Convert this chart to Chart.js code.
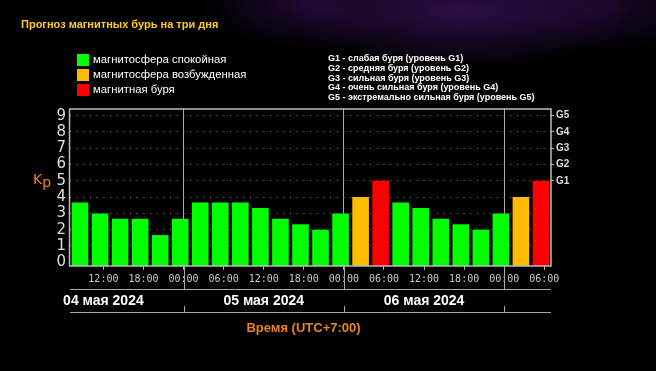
<!DOCTYPE html>
<html><head><meta charset="utf-8">
<style>
html,body{margin:0;padding:0;background:#000;overflow:hidden}
#wrap{position:relative;width:656px;height:371px;
background:
 radial-gradient(ellipse 110px 45px at 310px 5px, rgba(60,18,95,0.5), rgba(0,0,0,0) 100%),
 radial-gradient(ellipse 170px 60px at 460px 10px, rgba(75,25,120,0.6), rgba(0,0,0,0) 100%),
 radial-gradient(ellipse 120px 50px at 600px 5px, rgba(50,15,80,0.5), rgba(0,0,0,0) 100%),
 #000;}
canvas{display:block}
</style>
<script src="https://cdn.jsdelivr.net/npm/chart.js@4.4.0/dist/chart.umd.min.js"></script>
</head><body><div id="wrap"><canvas id="c" width="656" height="371"></canvas></div>
<script>
const chartTitle = 'Прогноз магнитных бурь на три дня';
const categories = ['04.05 07:00','04.05 10:00','04.05 13:00','04.05 16:00','04.05 19:00','04.05 22:00',
  '05.05 01:00','05.05 04:00','05.05 07:00','05.05 10:00','05.05 13:00','05.05 16:00','05.05 19:00','05.05 22:00',
  '06.05 01:00','06.05 04:00','06.05 07:00','06.05 10:00','06.05 13:00','06.05 16:00','06.05 19:00','06.05 22:00',
  '07.05 01:00','07.05 04:00'];
const kpValues = [3.67,3.00,2.67,2.67,1.67,2.67,3.67,3.67,3.67,3.33,2.67,2.33,2.00,3.00,4.00,5.00,3.67,3.33,2.67,2.33,2.00,3.00,4.00,5.00];
const levelNames = ['магнитосфера спокойная','магнитосфера возбужденная','магнитная буря'];
const levelColors = ['#00ff00','#ffbb00','#ff0000'];
const stormLegend = ['G1 - слабая буря (уровень G1)','G2 - средняя буря (уровень G2)','G3 - сильная буря (уровень G3)','G4 - очень сильная буря (уровень G4)','G5 - экстремально сильная буря (уровень G5)'];
const yTickValues = [0,1,2,3,4,5,6,7,8,9];
const gTickValues = [5,6,7,8,9];
const gTickLabels = ['G1','G2','G3','G4','G5'];
const timeTickHours = [5,11,17,23,29,35,41,47,53,59,65,71];
const timeTickLabels = ['12:00','18:00','00:00','06:00','12:00','18:00','00:00','06:00','12:00','18:00','00:00','06:00'];
const midnightHours = [17,41,65];
const dayLabels = ['04 мая 2024','05 мая 2024','06 мая 2024'];
const dayLabelHours = [5,29,53];
const yTitle = 'Kp';
const xTitle = 'Время (UTC+7:00)';

const Y_MIN = -0.23, Y_MAX = 9.41;
function levelColor(v){ return v >= 5 ? levelColors[2] : (v >= 4 ? levelColors[1] : levelColors[0]); }

const decor = {
  id:'decor',
  afterDraw(chart){
    const ctx = chart.ctx, a = chart.chartArea, xt = chart.scales.xt;
    ctx.save();
    // frame
    ctx.strokeStyle = '#bdbdbd'; ctx.lineWidth = 1.5;
    ctx.strokeRect(a.left - 0.5, a.top, a.right - a.left + 0.5, a.bottom - a.top);
    // midnight extensions
    ctx.strokeStyle = '#aaaaaa'; ctx.lineWidth = 1;
    midnightHours.forEach(h => {
      const x = Math.round(xt.getPixelForValue(h)) + 0.5;
      ctx.beginPath(); ctx.moveTo(x, a.bottom); ctx.lineTo(x, a.bottom + 23); ctx.stroke();
      ctx.beginPath(); ctx.moveTo(x, a.bottom + 40); ctx.lineTo(x, a.bottom + 46); ctx.stroke();
    });
    // horizontal separator lines
    [a.bottom + 23.5, a.bottom + 46.5].forEach(y => {
      ctx.beginPath(); ctx.moveTo(a.left, y); ctx.lineTo(a.right, y); ctx.stroke();
    });
    // day labels
    ctx.fillStyle = '#ffffff'; ctx.font = 'bold 14px "Liberation Sans"';
    ctx.textAlign = 'center'; ctx.textBaseline = 'middle';
    dayLabels.forEach((t, i) => ctx.fillText(t, xt.getPixelForValue(dayLabelHours[i]), a.bottom + 35));
    // x title
    ctx.fillStyle = '#e8861c'; ctx.font = 'bold 13px "Liberation Sans"';
    ctx.fillText(xTitle, (a.left + a.right) / 2 - 7, a.bottom + 62);
    // Kp title
    const y5 = chart.scales.y.getPixelForValue(5);
    ctx.textAlign = 'left';
    ctx.fillStyle = '#e8861c'; ctx.font = '14px "DejaVu Sans"';
    ctx.fillText('K', 33, y5);
    const kw = ctx.measureText('K').width;
    ctx.fillText('p', 33 + kw, y5 + 3);
    // chart title
    ctx.fillStyle = '#ffcc22'; ctx.font = 'bold 11px "Liberation Sans"';
    ctx.fillText(chartTitle, 21, 25);
    // level legend
    ctx.font = '11.3px "Liberation Sans"';
    levelNames.forEach((t, i) => {
      const cy = 60 + i * 15;
      ctx.fillStyle = levelColors[i]; ctx.fillRect(77, cy - 6, 12, 12);
      ctx.fillStyle = '#ffffff'; ctx.fillText(t, 93, cy);
    });
    // storm legend
    ctx.font = 'bold 9px "Liberation Sans"'; ctx.fillStyle = '#ffffff';
    stormLegend.forEach((t, i) => ctx.fillText(t, 328, 59 + i * 9.6));
    ctx.restore();
  }
};

new Chart(document.getElementById('c'), {
  type: 'bar',
  data: {
    labels: categories,
    datasets: [{
      data: kpValues,
      base: Y_MIN,
      backgroundColor: ctx => levelColor(ctx.raw),
      borderWidth: 0,
      categoryPercentage: 1,
      barPercentage: 0.83,
      xAxisID: 'x', yAxisID: 'y'
    }]
  },
  options: {
    responsive: false, animation: false,
    layout: { padding: { top: 109, left: 0, right: 0, bottom: 0 } },
    plugins: { legend: { display: false }, tooltip: { enabled: false }, title: { display: false } },
    scales: {
      x: { type: 'category', display: false, offset: true, grid: { display: false } },
      xt: {
        type: 'linear', position: 'bottom', min: 0, max: 72, offset: false,
        afterBuildTicks: s => { s.ticks = timeTickHours.map(v => ({ value: v })); },
        afterFit: s => { s.height = 105; },
        grid: {
          offset: false,
          color: c => (c.tick && midnightHours.includes(c.tick.value)) ? '#aaaaaa' : 'rgba(0,0,0,0)',
          lineWidth: 1, drawTicks: true, tickLength: 4, tickColor: '#aaaaaa'
        },
        border: { display: false },
        ticks: {
          color: '#cccccc', font: { family: '"DejaVu Sans Mono"', size: 10 }, padding: 3,
          maxRotation: 0, autoSkip: false,
          callback: (v, i) => timeTickLabels[i]
        }
      },
      y: {
        type: 'linear', position: 'left', min: Y_MIN, max: Y_MAX,
        afterBuildTicks: s => { s.ticks = yTickValues.map(v => ({ value: v })); },
        afterFit: s => { s.width = 70; },
        grid: {
          color: c => (c.tick && c.tick.value > 0) ? '#8a8a8a' : 'rgba(0,0,0,0)',
          lineWidth: 1, drawTicks: false
        },
        border: { display: false, dash: [1, 5.67] },
        ticks: { color: '#dddddd', font: { family: '"DejaVu Sans"', size: 15 }, padding: 4,
          autoSkip: false, callback: v => String(v) }
      },
      y2: {
        type: 'linear', position: 'right', min: Y_MIN, max: Y_MAX,
        afterBuildTicks: s => { s.ticks = gTickValues.map(v => ({ value: v })); },
        afterFit: s => { s.width = 105; },
        grid: { drawOnChartArea: false, drawTicks: true, tickLength: 3, color: '#aaaaaa' },
        border: { display: false },
        ticks: { color: '#dddddd', font: { family: '"Liberation Sans"', size: 10, weight: 'bold' }, padding: 2,
          autoSkip: false, callback: (v, i) => gTickLabels[i] }
      }
    }
  },
  plugins: [decor]
});
</script>
</body></html>
